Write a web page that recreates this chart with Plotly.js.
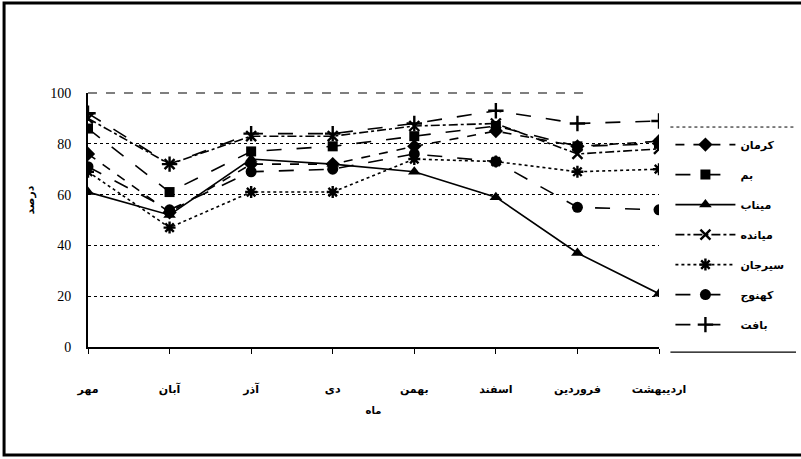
<!DOCTYPE html>
<html>
<head>
<meta charset="utf-8">
<script src="https://cdn.plot.ly/plotly-3.0.1.min.js"></script>
<style>html,body{margin:0;padding:0;background:#fff;}#chart{width:801px;height:459px;}</style>
</head>
<body>
<div id="chart"></div>
<script>
// Months (categories)
var months = ["مهر", "آبان", "آذر", "دی", "بهمن", "اسفند", "فروردین", "اردیبهشت"];
// Series values (percent)
var kerman   = [76, 53, 72, 72, 79, 85, 79, 81];
var bam      = [86, 61, 77, 79, 83, 87, 79, 80];
var minab    = [61, 52, 74, 72, 69, 59, 37, 21];
var miyandeh = [90, 72, 83, 83, 87, 88, 76, 78];
var sirjan   = [69, 47, 61, 61, 74, 73, 69, 70];
var kahnuj   = [71, 54, 69, 70, 76, 73, 55, 54];
var baft     = [92, 72, 84, 84, 88, 93, 88, 89];
var seriesNames = ["کرمان", "بم", "میناب", "میانده", "سیرجان", "کهنوج", "بافت"];
var yTicks = [0, 20, 40, 60, 80, 100];

var xIdx = months.map(function(_, i){ return i; });
function tr(name, y, dash, symbol, size, open) {
  return {
    type: 'scatter', mode: 'lines+markers', name: name, legendgroup: name, x: xIdx, y: y,
    line: {color: '#000', width: 1.6, dash: dash},
    marker: open ? {symbol: symbol, size: size, color: '#000', line: {color: '#000', width: 2.4}}
                 : {symbol: symbol, size: size, color: '#000'}
  };
}
var data = [
  tr(seriesNames[0], kerman, 'dash', 'diamond', 11, false),
  tr(seriesNames[1], bam, 'longdash', 'square', 10, false),
  tr(seriesNames[2], minab, 'solid', 'triangle-up', 11, false),
  tr(seriesNames[3], miyandeh, 'dashdot', 'x-thin-open', 10, true),
  tr(seriesNames[4], sirjan, 'dot', 'asterisk-open', 10, true),
  tr(seriesNames[5], kahnuj, 'longdash', 'circle', 11, false),
  tr(seriesNames[6], baft, 'longdash', 'cross-thin-open', 11, true)
];

var layout = {
  width: 801, height: 459,
  margin: {l: 88, r: 134, t: 93, b: 112},
  paper_bgcolor: '#fff', plot_bgcolor: '#fff',
  showlegend: true,
  font: {family: 'DejaVu Sans', color: '#000'},
  xaxis: {
    range: [0, 7], tickmode: 'array', tickvals: xIdx, ticktext: months,
    showgrid: false, zeroline: false, showline: true, linecolor: '#000', linewidth: 1.5,
    ticks: 'outside', ticklen: 5, tickcolor: '#000', ticklabelstandoff: 26,
    tickfont: {family: 'DejaVu Sans', size: 11, weight: 'bold', color: '#000'},
    title: {text: 'ماه', font: {family: 'DejaVu Sans', size: 10, weight: 'bold'}, standoff: 12}
  },
  yaxis: {
    range: [0, 100], tickmode: 'array', tickvals: yTicks,
    showgrid: true, gridcolor: '#000', gridwidth: 1, griddash: 'dot',
    zeroline: false, showline: true, linecolor: '#000', linewidth: 2,
    ticks: '', ticklabelstandoff: 12,
    tickfont: {family: 'Liberation Serif', size: 14, color: '#000'}
  },
  legend: {
    x: 1.02, xanchor: 'left', y: 0.854, yanchor: 'top',
    bgcolor: 'rgba(0,0,0,0)', borderwidth: 0,
    font: {family: 'DejaVu Sans', size: 11, weight: 'bold', color: '#000'},
    tracegroupgap: 11, itemwidth: 60
  },
  annotations: [
    {text: 'درصد', xref: 'paper', yref: 'paper', x: -0.115, y: 0.58, textangle: -90,
     showarrow: false, font: {family: 'DejaVu Sans', size: 11, weight: 'bold', color: '#000'}}
  ],
  shapes: [
    {type: 'rect', xref: 'paper', yref: 'paper', x0: -0.147, x1: 1.4, y0: -0.425, y1: 1.354,
     line: {color: '#000', width: 3}},
    {type: 'line', xref: 'paper', yref: 'paper', x0: 0, x1: 0.88, y0: 1, y1: 1,
     line: {color: '#000', width: 1.2, dash: 'dash'}},
    {type: 'line', xref: 'paper', yref: 'paper', x0: 1.02, x1: 1.24, y0: 0.866, y1: 0.866,
     line: {color: '#000', width: 1, dash: 'dot'}},
    {type: 'line', xref: 'paper', yref: 'paper', x0: 1.02, x1: 1.24, y0: -0.02, y1: -0.02,
     line: {color: '#000', width: 1.2}}
  ]
};
Plotly.newPlot('chart', data, layout, {displayModeBar: false, staticPlot: true});
</script>
</body>
</html>
